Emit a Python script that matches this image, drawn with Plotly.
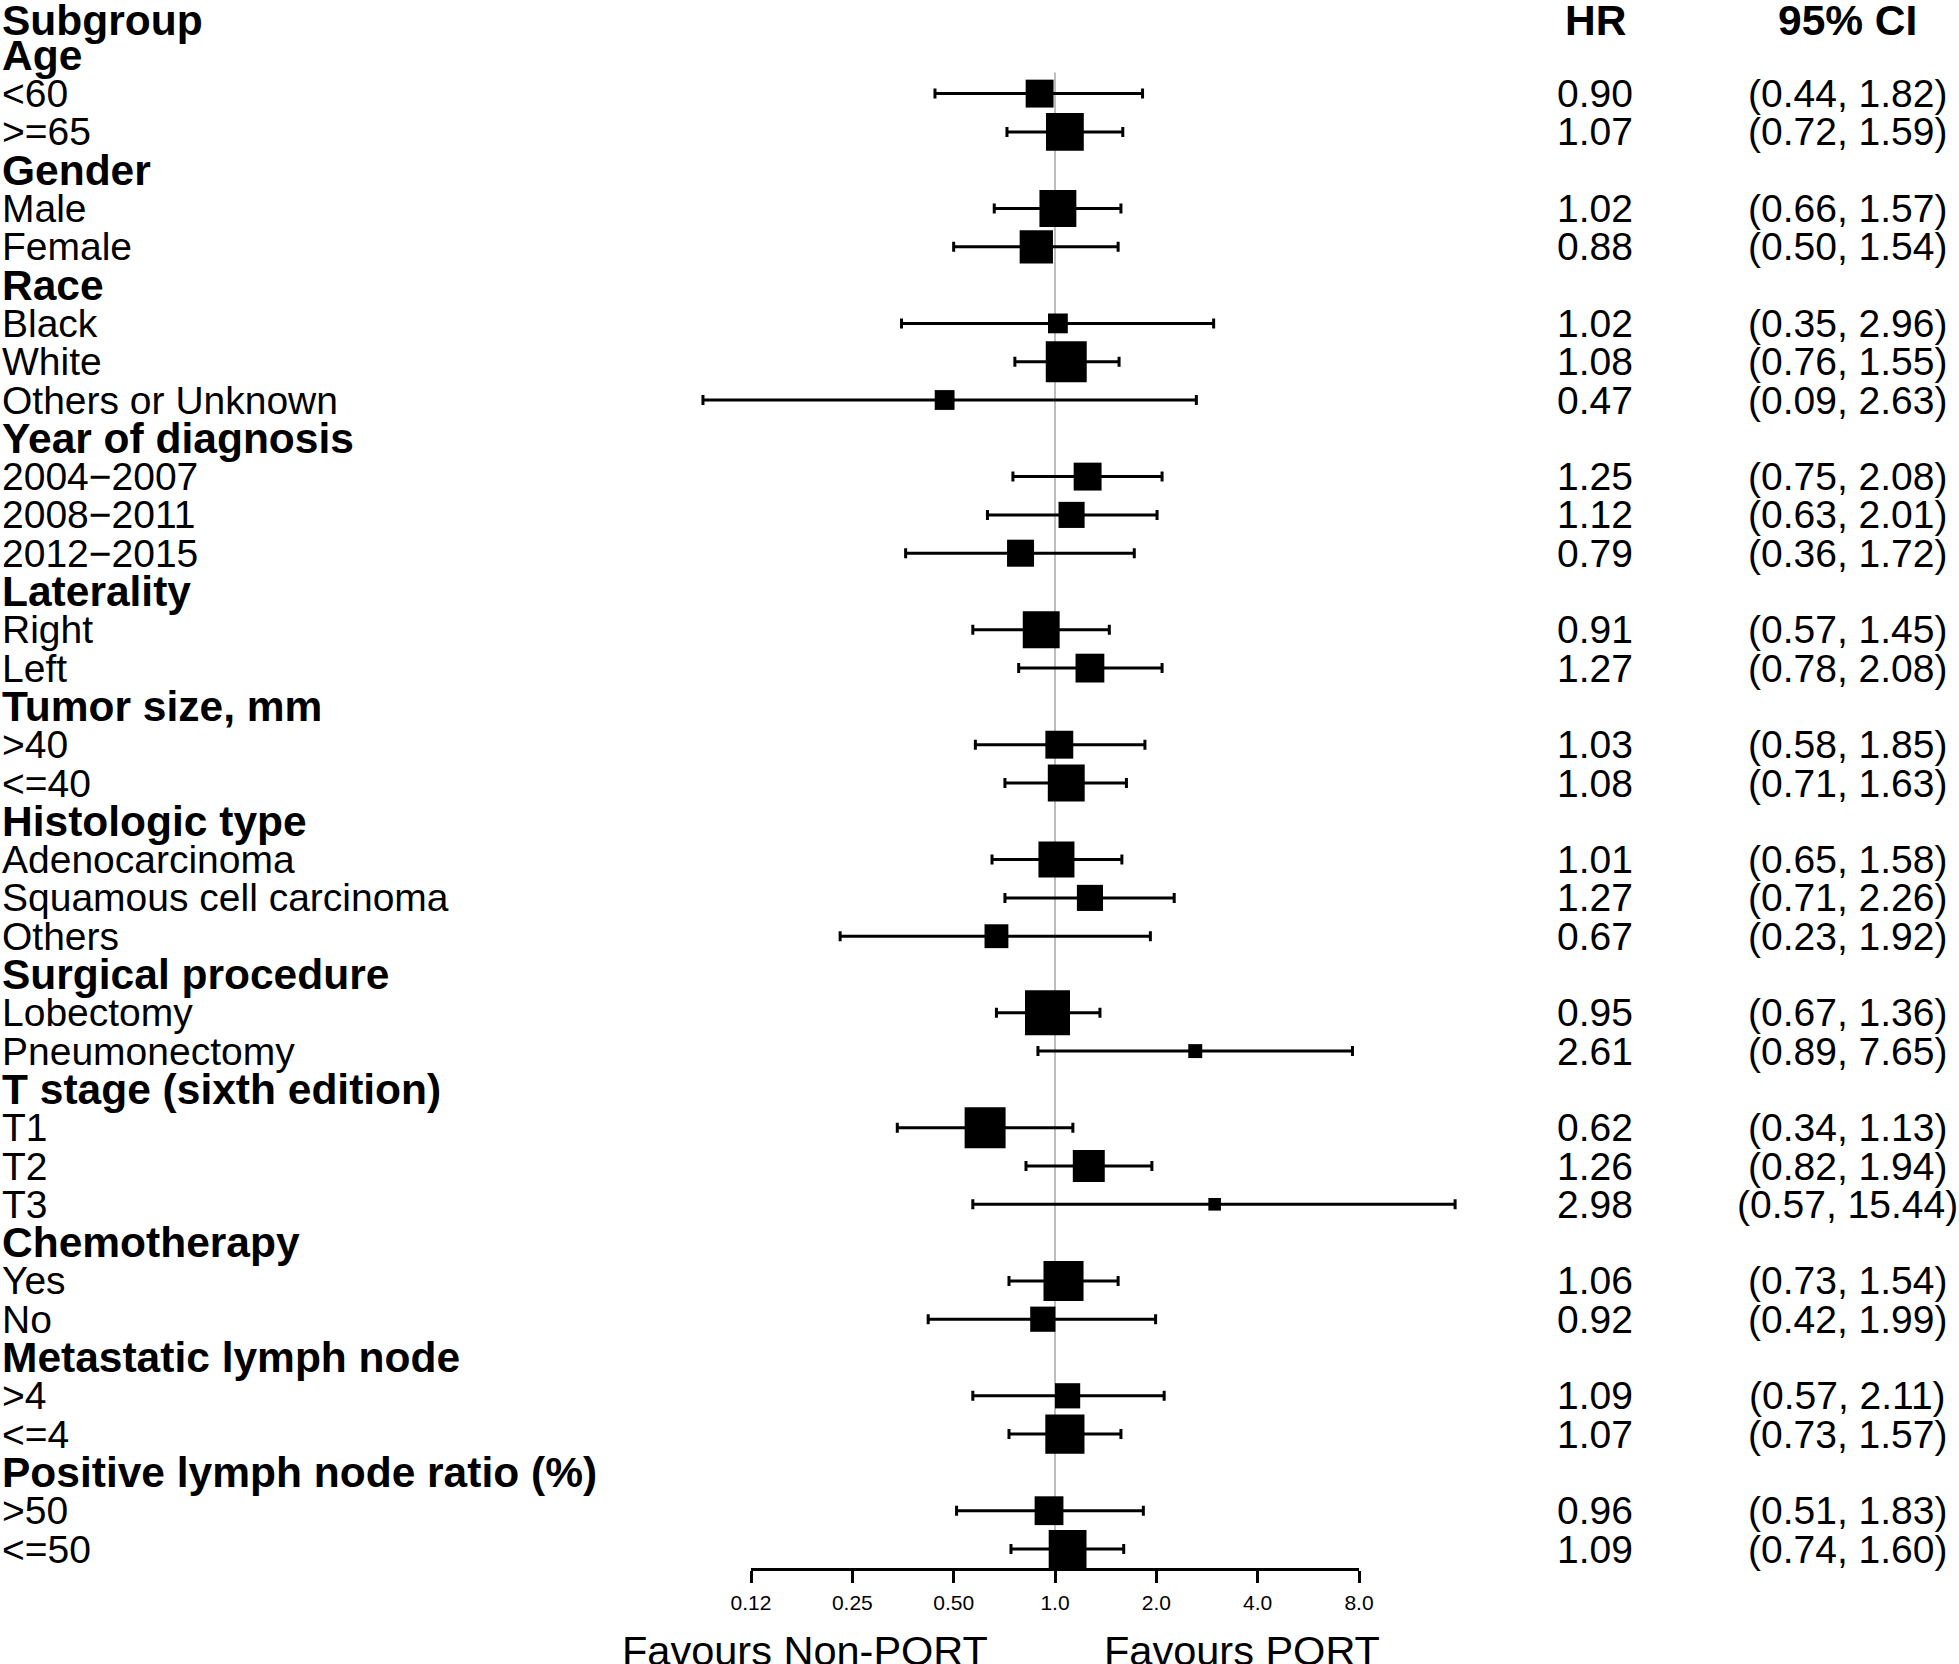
import math
import plotly.graph_objects as go

# ---------------- data ----------------
labels = [
    "Age", "<60", ">=65",
    "Gender", "Male", "Female",
    "Race", "Black", "White", "Others or Unknown",
    "Year of diagnosis", "2004\u22122007", "2008\u22122011", "2012\u22122015",
    "Laterality", "Right", "Left",
    "Tumor size, mm", ">40", "<=40",
    "Histologic type", "Adenocarcinoma", "Squamous cell carcinoma", "Others",
    "Surgical procedure", "Lobectomy", "Pneumonectomy",
    "T stage (sixth edition)", "T1", "T2", "T3",
    "Chemotherapy", "Yes", "No",
    "Metastatic lymph node", ">4", "<=4",
    "Positive lymph node ratio (%)", ">50", "<=50",
]
is_group = [
    True, False, False,
    True, False, False,
    True, False, False, False,
    True, False, False, False,
    True, False, False,
    True, False, False,
    True, False, False, False,
    True, False, False,
    True, False, False, False,
    True, False, False,
    True, False, False,
    True, False, False,
]
hr = [
    None, 0.90, 1.07,
    None, 1.02, 0.88,
    None, 1.02, 1.08, 0.47,
    None, 1.25, 1.12, 0.79,
    None, 0.91, 1.27,
    None, 1.03, 1.08,
    None, 1.01, 1.27, 0.67,
    None, 0.95, 2.61,
    None, 0.62, 1.26, 2.98,
    None, 1.06, 0.92,
    None, 1.09, 1.07,
    None, 0.96, 1.09,
]
ci_low = [
    None, 0.44, 0.72,
    None, 0.66, 0.50,
    None, 0.35, 0.76, 0.09,
    None, 0.75, 0.63, 0.36,
    None, 0.57, 0.78,
    None, 0.58, 0.71,
    None, 0.65, 0.71, 0.23,
    None, 0.67, 0.89,
    None, 0.34, 0.82, 0.57,
    None, 0.73, 0.42,
    None, 0.57, 0.73,
    None, 0.51, 0.74,
]
ci_high = [
    None, 1.82, 1.59,
    None, 1.57, 1.54,
    None, 2.96, 1.55, 2.63,
    None, 2.08, 2.01, 1.72,
    None, 1.45, 2.08,
    None, 1.85, 1.63,
    None, 1.58, 2.26, 1.92,
    None, 1.36, 7.65,
    None, 1.13, 1.94, 15.44,
    None, 1.54, 1.99,
    None, 2.11, 1.57,
    None, 1.83, 1.60,
]
# relative box weights (largest = 1)
weights = [
    None, 0.62, 0.84,
    None, 0.82, 0.74,
    None, 0.44, 0.91, 0.44,
    None, 0.62, 0.58, 0.60,
    None, 0.82, 0.64,
    None, 0.62, 0.82,
    None, 0.80, 0.58, 0.53,
    None, 1.00, 0.31,
    None, 0.91, 0.71, 0.28,
    None, 0.89, 0.56,
    None, 0.56, 0.87,
    None, 0.64, 0.84,
]
header_labels = ["Subgroup", "HR", "95% CI"]
tick_values = [0.125, 0.25, 0.5, 1, 2, 4, 8]
tick_labels = ["0.12", "0.25", "0.50", "1.0", "2.0", "4.0", "8.0"]
x_titles = ["Favours Non-PORT", "Favours PORT"]

# ---------------- layout geometry ----------------
W, H = 1959, 1664
ROW0, ROWSTEP = 17.0, 38.3          # pixel centre of header row, row spacing
AX_L, AX_R = 751.0, 1359.0          # pixel of 0.125 and 8 on the axis
AX_Y = 1568.0                       # pixel of axis line
HR_X, CI_X = 1595.0, 1847.0
MAX_BOX = 45.0
FONT = "Liberation Sans, Arial, sans-serif"
BOLD_SIZE, REG_SIZE = 42.5, 39

lmin, lmax = math.log10(tick_values[0]), math.log10(tick_values[-1])
per_px = (lmax - lmin) / (AX_R - AX_L)
x_range = [lmin - AX_L * per_px, lmin + (W - AX_L) * per_px]
y_range = [(H - ROW0) / ROWSTEP, -ROW0 / ROWSTEP]

rows = list(range(1, len(labels) + 1))
idx = [i for i, v in enumerate(hr) if v is not None]

fig = go.Figure()

fig.add_trace(go.Scatter(
    x=[hr[i] for i in idx],
    y=[rows[i] for i in idx],
    mode="markers",
    marker=dict(symbol="square", color="black", opacity=1,
                size=[weights[i] * MAX_BOX for i in idx],
                line=dict(width=0)),
    error_x=dict(type="data", symmetric=False,
                 array=[ci_high[i] - hr[i] for i in idx],
                 arrayminus=[hr[i] - ci_low[i] for i in idx],
                 color="black", thickness=3, width=5),
    hoverinfo="skip", showlegend=False,
    xaxis="x", yaxis="y",
))

# dummy trace so the visible axis subplot is drawn
fig.add_trace(go.Scatter(x=[1], y=[0.5], mode="markers",
                         marker=dict(opacity=0), hoverinfo="skip",
                         showlegend=False, xaxis="x2", yaxis="y2"))

annotations = []
# header
for txt, xp, anchor in zip(header_labels, [0.0, HR_X, CI_X], ["left", "center", "center"]):
    annotations.append(dict(text="<b>%s</b>" % txt, x=xp / W, xref="paper",
                            y=0, yref="y", xanchor=anchor, yanchor="middle", yshift=-3,
                            showarrow=False, font=dict(family=FONT, size=BOLD_SIZE, color="black")))
for i, lab in enumerate(labels):
    if is_group[i]:
        annotations.append(dict(text="<b>%s</b>" % lab, x=0, xref="paper", y=rows[i], yref="y",
                                xanchor="left", yanchor="middle", showarrow=False,
                                font=dict(family=FONT, size=BOLD_SIZE, color="black")))
    else:
        annotations.append(dict(text=lab, x=0, xref="paper", y=rows[i], yref="y",
                                xanchor="left", yanchor="middle", showarrow=False,
                                font=dict(family=FONT, size=REG_SIZE, color="black")))
        annotations.append(dict(text="%.2f" % hr[i], x=HR_X / W, xref="paper", y=rows[i], yref="y",
                                xanchor="center", yanchor="middle", showarrow=False,
                                font=dict(family=FONT, size=REG_SIZE, color="black")))
        annotations.append(dict(text="(%.2f, %.2f)" % (ci_low[i], ci_high[i]), x=CI_X / W,
                                xref="paper", y=rows[i], yref="y",
                                xanchor="center", yanchor="middle", showarrow=False,
                                font=dict(family=FONT, size=REG_SIZE, color="black")))
annotations.append(dict(text=x_titles[0], x=990 / W, xref="paper", y=1 - 1650 / H, yref="paper",
                        xanchor="right", yanchor="middle", showarrow=False,
                        font=dict(family=FONT, size=41.5, color="black")))
annotations.append(dict(text=x_titles[1], x=1102 / W, xref="paper", y=1 - 1650 / H, yref="paper",
                        xanchor="left", yanchor="middle", showarrow=False,
                        font=dict(family=FONT, size=41.5, color="black")))

fig.update_layout(
    width=W, height=H, autosize=False,
    margin=dict(l=0, r=0, t=0, b=0, pad=0, autoexpand=False),
    paper_bgcolor="white", plot_bgcolor="rgba(0,0,0,0)",
    xaxis=dict(type="log", range=x_range, domain=[0, 1], visible=False, fixedrange=True),
    yaxis=dict(range=y_range, domain=[0, 1], visible=False, fixedrange=True),
    xaxis2=dict(type="log", range=[lmin, lmax], domain=[AX_L / W, AX_R / W], anchor="y2",
                showline=True, linecolor="black", linewidth=3, mirror=False,
                ticks="outside", ticklen=12, tickwidth=3, tickcolor="black",
                tickvals=tick_values, ticktext=tick_labels,
                tickfont=dict(family=FONT, size=21, color="black"),
                showgrid=False, zeroline=False, fixedrange=True, ticklabelstandoff=2),
    yaxis2=dict(domain=[1 - AX_Y / H, 1], range=[0, 1], visible=False, fixedrange=True),
    shapes=[dict(type="line", xref="x", yref="y", x0=1, x1=1,
                 y0=1.45, y1=(AX_Y - ROW0) / ROWSTEP,
                 line=dict(color="#bdbdbd", width=2), layer="below")],
    annotations=annotations,
    showlegend=False,
)

fig.write_html("out.html", config={"displayModeBar": False, "staticPlot": True},
               post_script="document.body.style.margin='0';")
